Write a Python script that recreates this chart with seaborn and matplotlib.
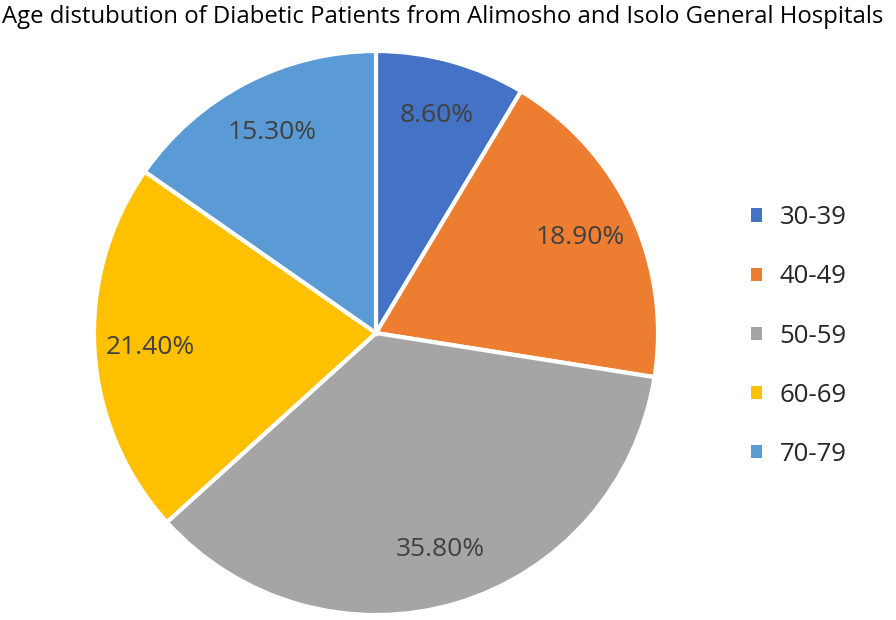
import matplotlib
matplotlib.use("Agg")
import matplotlib.pyplot as plt
import seaborn as sns
from matplotlib.patches import Patch

# ── Data ──────────────────────────────────────────────────────────────────────

AGE_GROUPS = ["30-39", "40-49", "50-59", "60-69", "70-79"]
SHARES     = [8.6, 18.9, 35.8, 21.4, 15.3]
COLORS     = ["#4472C4", "#ED7D31", "#A5A5A5", "#FFC000", "#5B9BD5"]
TITLE      = "Age distubution of Diabetic Patients from Alimosho and Isolo General Hospitals"

# ── Plot ──────────────────────────────────────────────────────────────────────

sns.set_theme(style="white")
plt.rcParams["font.family"] = ["Open Sans", "DejaVu Sans"]

fig = plt.figure(figsize=(8.96, 6.2), dpi=100)
ax = fig.add_axes([0.1049, 0.008, 0.6295, 0.9097])

wedges, texts, autotexts = ax.pie(
    SHARES,
    colors=COLORS,
    startangle=90,
    counterclock=False,
    autopct=lambda p: f"{p:.2f}%",
    pctdistance=0.8,
    wedgeprops=dict(edgecolor="white", linewidth=3),
)
for t in autotexts:
    t.set_color("#404040")
    t.set_fontsize(19)
ax.set_xlim(-1, 1)
ax.set_ylim(-1, 1)
ax.set_aspect("equal")

fig.text(0.002, 0.992, TITLE, ha="left", va="top", fontsize=17.2, color="#000000")

handles = [Patch(facecolor=c, edgecolor="none") for c in COLORS]
fig.legend(handles, AGE_GROUPS, loc="center left", bbox_to_anchor=(0.838, 0.458),
           frameon=False, fontsize=18.5, handlelength=0.42, handleheight=0.42,
           handletextpad=0.7, labelspacing=1.33, borderpad=0, borderaxespad=0,
           labelcolor="#262626")

fig.savefig("out.png", dpi=100)
